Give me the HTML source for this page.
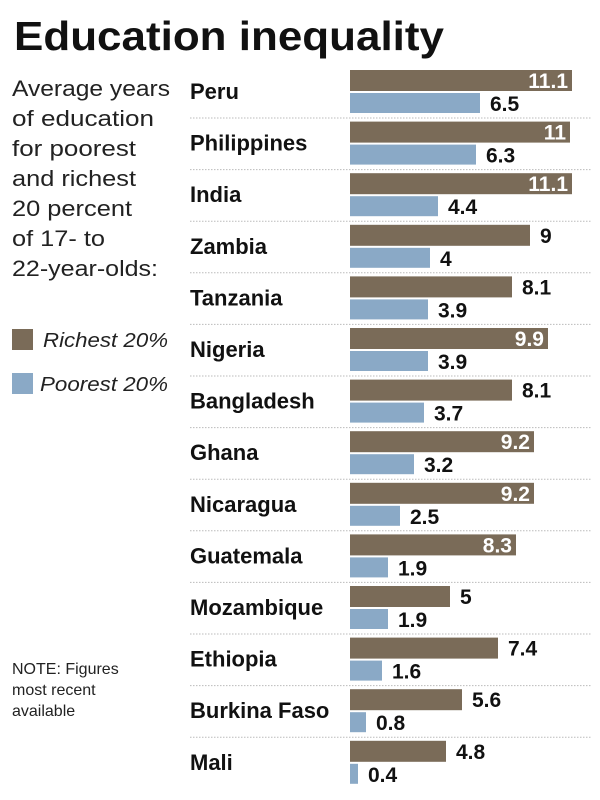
<!DOCTYPE html>
<html><head><meta charset="utf-8"><style>
html,body{margin:0;padding:0;background:#fff;}
svg{display:block;font-family:"Liberation Sans",sans-serif;}
</style></head><body>
<svg width="600" height="800" viewBox="0 0 600 800" xmlns="http://www.w3.org/2000/svg">
<text x="14" y="50" font-size="41" font-weight="bold" fill="#111" textLength="430" lengthAdjust="spacingAndGlyphs">Education inequality</text>
<g font-size="22" fill="#222">
<text x="12" y="96" textLength="158" lengthAdjust="spacingAndGlyphs">Average years</text>
<text x="12" y="126" textLength="142" lengthAdjust="spacingAndGlyphs">of education</text>
<text x="12" y="156" textLength="124" lengthAdjust="spacingAndGlyphs">for poorest</text>
<text x="12" y="186" textLength="124" lengthAdjust="spacingAndGlyphs">and richest</text>
<text x="12" y="216" textLength="120" lengthAdjust="spacingAndGlyphs">20 percent</text>
<text x="12" y="246" textLength="93" lengthAdjust="spacingAndGlyphs">of 17- to</text>
<text x="12" y="276" textLength="146" lengthAdjust="spacingAndGlyphs">22-year-olds:</text>
</g>
<rect x="12" y="329" width="21" height="21" fill="#7a6b58"/>
<text x="43" y="347" font-size="20" font-style="italic" fill="#222" textLength="125" lengthAdjust="spacingAndGlyphs">Richest 20%</text>
<rect x="12" y="373" width="21" height="21" fill="#8aa9c6"/>
<text x="40" y="391" font-size="20" font-style="italic" fill="#222" textLength="128" lengthAdjust="spacingAndGlyphs">Poorest 20%</text>
<g font-size="16" fill="#222">
<text x="12" y="674">NOTE: Figures</text>
<text x="12" y="695">most recent</text>
<text x="12" y="716">available</text>
</g>
<g id="rows"></g>
</svg>
<script>
const d=[["Peru",11.1,6.5,1],["Philippines",11,6.3,1],["India",11.1,4.4,1],["Zambia",9,4,0],["Tanzania",8.1,3.9,0],["Nigeria",9.9,3.9,1],["Bangladesh",8.1,3.7,0],["Ghana",9.2,3.2,1],["Nicaragua",9.2,2.5,1],["Guatemala",8.3,1.9,1],["Mozambique",5,1.9,0],["Ethiopia",7.4,1.6,0],["Burkina Faso",5.6,0.8,0],["Mali",4.8,0.4,0]];
let s="";
d.forEach((r,i)=>{const y=70+i*51.6;
const wb=r[1]*20,wp=r[2]*20;
s+=`<text x="190" y="${y+29}" font-size="22" font-weight="bold" fill="#111">${r[0]}</text>`;
s+=`<rect x="350" y="${y}" width="${wb}" height="21" fill="#7a6b58"/>`;
s+=`<rect x="350" y="${y+23}" width="${wp}" height="20" fill="#8aa9c6"/>`;
if(r[3]) s+=`<text x="${350+wb-4}" y="${y+18}" font-size="21" font-weight="bold" fill="#fff" text-anchor="end">${r[1]}</text>`;
else s+=`<text x="${350+wb+10}" y="${y+18}" font-size="21" font-weight="bold" fill="#111">${r[1]}</text>`;
s+=`<text x="${350+wp+10}" y="${y+41}" font-size="21" font-weight="bold" fill="#111">${r[2]}</text>`;
if(i<d.length-1) s+=`<line x1="190" x2="592" y1="${y+48}" y2="${y+48}" stroke="#bbb" stroke-width="1" stroke-dasharray="1.5,1.5"/>`;
});
document.getElementById("rows").innerHTML=s;
</script>
</body></html>
